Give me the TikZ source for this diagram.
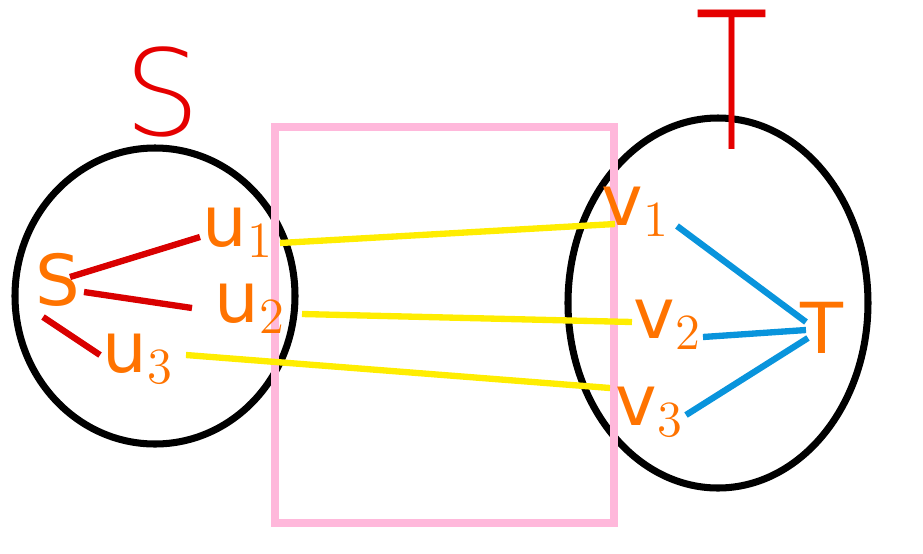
\documentclass[tikz,border=0pt]{standalone}
\usepackage{fontspec}
\setmainfont{DejaVu Sans}
\newfontfamily\thinfont{DejaVu Sans ExtraLight}
\begin{document}
\begin{tikzpicture}[x=0.01cm,y=-0.01cm,
  lbl/.style={text=orange!90!red, font=\fontsize{20}{22}\selectfont, inner sep=0pt},
  big/.style={text=red!90!black, font=\thinfont\fontsize{34}{36}\selectfont, inner sep=0pt},
  redl/.style={draw=red!85!black, line width=1.8pt},
  yell/.style={draw=yellow!95!orange, line width=1.8pt},
  blue/.style={draw=cyan!80!blue, line width=1.8pt},
  ring/.style={draw=black, line width=2pt}]
\useasboundingbox (0,0) rectangle (923,554);
\draw[ring] (155,296) ellipse [x radius=140, y radius=148];
\draw[ring] (718,303) ellipse [x radius=150, y radius=185];
\draw[draw=pink!80!magenta!70, line width=2pt] (275,127) rectangle (614,523);
\node[big] (S) at (162,92) {S};
\node[big, yscale=1.6] (Tt) at (732,80) {T};
\node[lbl] (s) at (58,280) {S};
\node[lbl] (u1) at (238,232) {u$_1$};
\node[lbl] (u2) at (250,308) {u$_2$};
\node[lbl] (u3) at (138,358) {u$_3$};
\node[lbl] (v1) at (636,212) {v$_1$};
\node[lbl] (v2) at (668,325) {v$_2$};
\node[lbl] (v3) at (650,412) {v$_3$};
\node[lbl] (t) at (822,328) {T};
\coordinate (a1) at (70,277); \coordinate (a2) at (200,237);
\coordinate (b1) at (84,292); \coordinate (b2) at (192,308);
\coordinate (c1) at (43,317); \coordinate (c2) at (100,355);
\draw[redl] (a1) -- (a2); \draw[redl] (b1) -- (b2); \draw[redl] (c1) -- (c2);
\coordinate (y1) at (280,243); \coordinate (y2) at (615,224);
\coordinate (y3) at (302,314); \coordinate (y4) at (632,322);
\coordinate (y5) at (186,355); \coordinate (y6) at (610,388);
\draw[yell] (y1) -- (y2); \draw[yell] (y3) -- (y4); \draw[yell] (y5) -- (y6);
\coordinate (w1) at (677,226); \coordinate (w2) at (703,337); \coordinate (w3) at (686,415);
\coordinate (t1) at (806,322); \coordinate (t2) at (806,330); \coordinate (t3) at (808,338);
\draw[blue] (w1) -- (t1); \draw[blue] (w2) -- (t2); \draw[blue] (w3) -- (t3);
\end{tikzpicture}
\end{document}
